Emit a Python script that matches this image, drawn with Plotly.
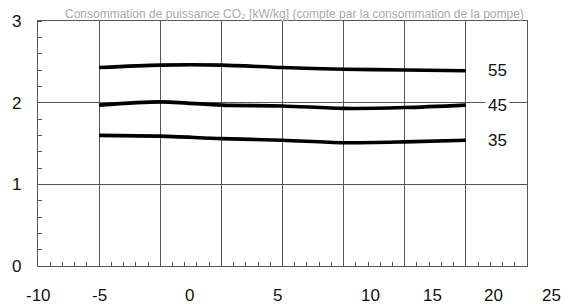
import plotly.graph_objects as go

# Data (x in grid units, y values)
x_points = [-5, 0, 5, 10, 15, 20, 25]
series_55 = [2.43, 2.46, 2.46, 2.43, 2.41, 2.40, 2.39]
series_45 = [1.97, 2.01, 1.97, 1.96, 1.93, 1.94, 1.97]
series_35 = [1.60, 1.59, 1.56, 1.54, 1.51, 1.52, 1.54]
series_names = ["55", "45", "35"]

x_tick_labels = ["-10", "-5", "0", "5", "10", "15", "20", "25"]
x_tick_label_at = [-10, -4.93, 2.43, 9.59, 17.16, 22.31, 27.22, 32.04]
y_tick_vals = [0, 1, 2, 3]

title_text = "Consommation de puissance CO\u2082 [kW/kg] (compte par la consommation de la pompe)"

X_MIN, X_MAX = -10, 30

fig = go.Figure()
for name, ys in zip(series_names, [series_55, series_45, series_35]):
    fig.add_trace(go.Scatter(
        x=x_points, y=ys, mode="lines", name=name,
        line=dict(color="black", width=3.6, shape="spline", smoothing=0.8),
        showlegend=False, hoverinfo="skip"))
    fig.add_annotation(
        x=27.55, y=ys[-1], xref="x", yref="y", text=name, showarrow=False,
        font=dict(family="Liberation Sans, Arial", size=17, color="#111"),
        bgcolor="white", borderpad=2, xanchor="center", yanchor="middle")

for lab, pos in zip(x_tick_labels, x_tick_label_at):
    fig.add_annotation(
        x=(pos - X_MIN) / (X_MAX - X_MIN), y=0, xref="paper", yref="paper",
        text=lab, showarrow=False,
        font=dict(family="Liberation Sans, Arial", size=17, color="#111"),
        xanchor="center", yanchor="middle", yshift=-29)

fig.add_annotation(
    x=(294 - 38) / 489, y=1, xref="paper", yref="paper", text=title_text,
    showarrow=False,
    font=dict(family="Liberation Sans, Arial", size=12, color="#aaa"),
    xanchor="center", yanchor="top", yshift=16)

grid_col = "#555"
fig.update_layout(
    width=568, height=304,
    margin=dict(l=38, r=41, t=16, b=38, pad=0),
    paper_bgcolor="white", plot_bgcolor="white",
    xaxis=dict(range=[X_MIN, X_MAX], tick0=-10, dtick=5, showgrid=True,
               gridcolor=grid_col, gridwidth=1.4, showticklabels=False,
               ticks="", zeroline=False, showline=True, mirror=True,
               linecolor=grid_col, linewidth=1.4,
               minor=dict(ticks="inside", dtick=1, tick0=-10, ticklen=4,
                          tickcolor=grid_col, tickwidth=1.2, showgrid=False)),
    yaxis=dict(range=[0, 3], tickvals=y_tick_vals, showgrid=True,
               gridcolor=grid_col, gridwidth=1.4, ticks="", zeroline=False,
               showline=True, mirror=True, linecolor=grid_col, linewidth=1.4,
               ticklabelstandoff=12,
               tickfont=dict(family="Liberation Sans, Arial", size=17, color="#111"),
               minor=dict(ticks="inside", dtick=0.2, tick0=0, ticklen=4,
                          tickcolor=grid_col, tickwidth=1.2, showgrid=False)),
)

fig.write_html("out.html")
